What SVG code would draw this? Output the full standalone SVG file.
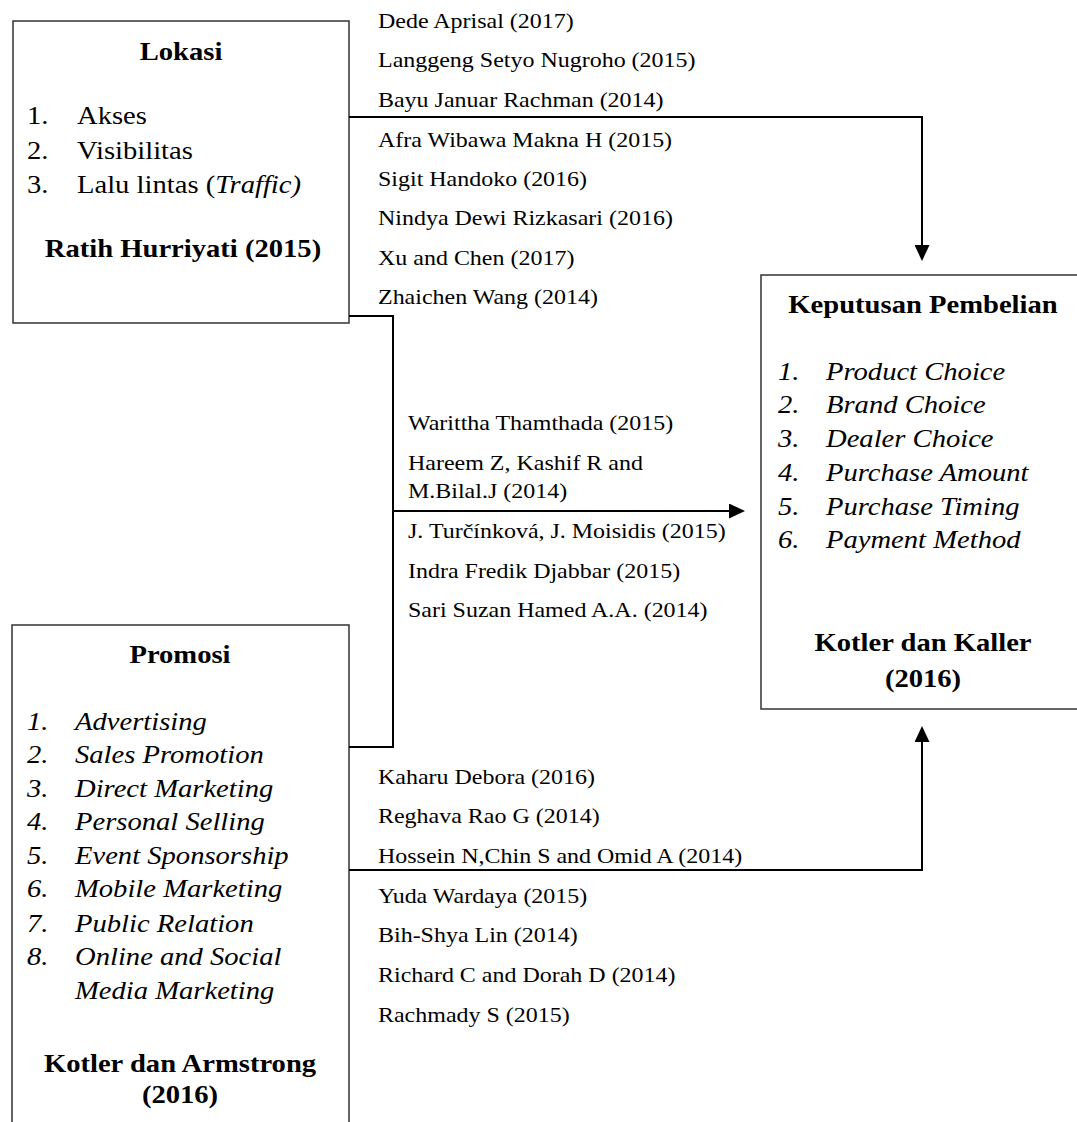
<svg xmlns="http://www.w3.org/2000/svg" width="1077" height="1122" viewBox="0 0 1077 1122">
<style>
text { font-family: "Liberation Serif", "Times New Roman", serif; fill: #000; }
.box { fill: #fff; stroke: #333; stroke-width: 1.5; }
.con { fill: none; stroke: #000; stroke-width: 2; }
.big { font-size: 26px; }
.ref { font-size: 22px; }
.b { font-weight: bold; }
.i { font-style: italic; }
.mid { text-anchor: middle; }
</style>
<defs>
<marker id="arr" viewBox="0 0 16 15" refX="0" refY="7.5" markerWidth="16" markerHeight="15" markerUnits="userSpaceOnUse" orient="auto">
<path d="M0,0 L16,7.5 L0,15 z" fill="#000"/>
</marker>
</defs>
<rect width="1077" height="1122" fill="#fff"/>

<g id="node-lokasi">
<rect class="box" x="13" y="21" width="336" height="302"/>
<g transform="translate(181,0) scale(1.1,1)"><text class="big b mid" x="0" y="60">Lokasi</text></g>
<g transform="translate(27,0) scale(1.1,1)" class="big">
<text y="124">1.</text><text y="159">2.</text><text y="193.5">3.</text>
</g>
<g transform="translate(77,0) scale(1.1,1)" class="big">
<text y="124">Akses</text><text y="159">Visibilitas</text><text y="193.5">Lalu lintas (<tspan class="i">Traffic)</tspan></text>
</g>
<g transform="translate(183,0) scale(1.1,1)"><text class="big b mid" x="0" y="257">Ratih Hurriyati (2015)</text></g>
</g>

<g id="node-keputusan">
<rect class="box" x="761" y="275" width="330" height="434"/>
<g transform="translate(923,0) scale(1.1,1)"><text class="big b mid" x="0" y="313">Keputusan Pembelian</text></g>
<g transform="translate(778,0) scale(1.1,1)" class="big i">
<text y="380">1.</text><text y="413.5">2.</text><text y="447">3.</text><text y="481">4.</text><text y="515">5.</text><text y="548.5">6.</text>
</g>
<g transform="translate(826,0) scale(1.1,1)" class="big i">
<text y="380">Product Choice</text><text y="413.5">Brand Choice</text><text y="447">Dealer Choice</text><text y="481">Purchase Amount</text><text y="515">Purchase Timing</text><text y="548.5">Payment Method</text>
</g>
<g transform="translate(923,0) scale(1.1,1)" class="big b mid">
<text x="0" y="651">Kotler dan Kaller</text><text x="0" y="687">(2016)</text>
</g>
</g>

<g id="node-promosi">
<rect class="box" x="12" y="625" width="337" height="520"/>
<g transform="translate(180,0) scale(1.1,1)"><text class="big b mid" x="0" y="663">Promosi</text></g>
<g transform="translate(27,0) scale(1.1,1)" class="big i">
<text y="730">1.</text><text y="763">2.</text><text y="797">3.</text><text y="830">4.</text><text y="864">5.</text><text y="897">6.</text><text y="932">7.</text><text y="965">8.</text>
</g>
<g transform="translate(75,0) scale(1.1,1)" class="big i">
<text y="730">Advertising</text><text y="763">Sales Promotion</text><text y="797">Direct Marketing</text><text y="830">Personal Selling</text><text y="864">Event Sponsorship</text><text y="897">Mobile Marketing</text><text y="932">Public Relation</text><text y="965">Online and Social</text><text y="999">Media Marketing</text>
</g>
<g transform="translate(180,0) scale(1.1,1)" class="big b mid">
<text x="0" y="1072">Kotler dan Armstrong</text><text x="0" y="1103">(2016)</text>
</g>
</g>

<g id="connectors">
<path class="con" d="M349,117 H922 V245" marker-end="url(#arr)"/>
<path class="con" d="M349,316 H393 V747 H349"/>
<path class="con" d="M393,511 H729" marker-end="url(#arr)"/>
<path class="con" d="M349,870 H922 V742" marker-end="url(#arr)"/>
</g>

<g id="labels-lokasi" transform="translate(378,0) scale(1.09,1)" class="ref">
<text y="28">Dede Aprisal (2017)</text>
<text y="67.5">Langgeng Setyo Nugroho (2015)</text>
<text y="107">Bayu Januar Rachman (2014)</text>
<text y="146.5">Afra Wibawa Makna H (2015)</text>
<text y="186">Sigit Handoko (2016)</text>
<text y="225.5">Nindya Dewi Rizkasari (2016)</text>
<text y="265">Xu and Chen (2017)</text>
<text y="304.5">Zhaichen Wang (2014)</text>
</g>

<g id="labels-simultan" transform="translate(408,0) scale(1.09,1)" class="ref">
<text y="430">Warittha Thamthada (2015)</text>
<text y="470">Hareem Z, Kashif R and</text>
<text y="498">M.Bilal.J (2014)</text>
<text y="538">J. Turčínková, J. Moisidis (2015)</text>
<text y="578">Indra Fredik Djabbar (2015)</text>
<text y="617">Sari Suzan Hamed A.A. (2014)</text>
</g>

<g id="labels-promosi" transform="translate(378,0) scale(1.09,1)" class="ref">
<text y="784">Kaharu Debora (2016)</text>
<text y="823">Reghava Rao G (2014)</text>
<text y="863">Hossein N,Chin S and Omid A (2014)</text>
<text y="903">Yuda Wardaya (2015)</text>
<text y="942">Bih-Shya Lin (2014)</text>
<text y="982">Richard C and Dorah D (2014)</text>
<text y="1022">Rachmady S (2015)</text>
</g>
</svg>
